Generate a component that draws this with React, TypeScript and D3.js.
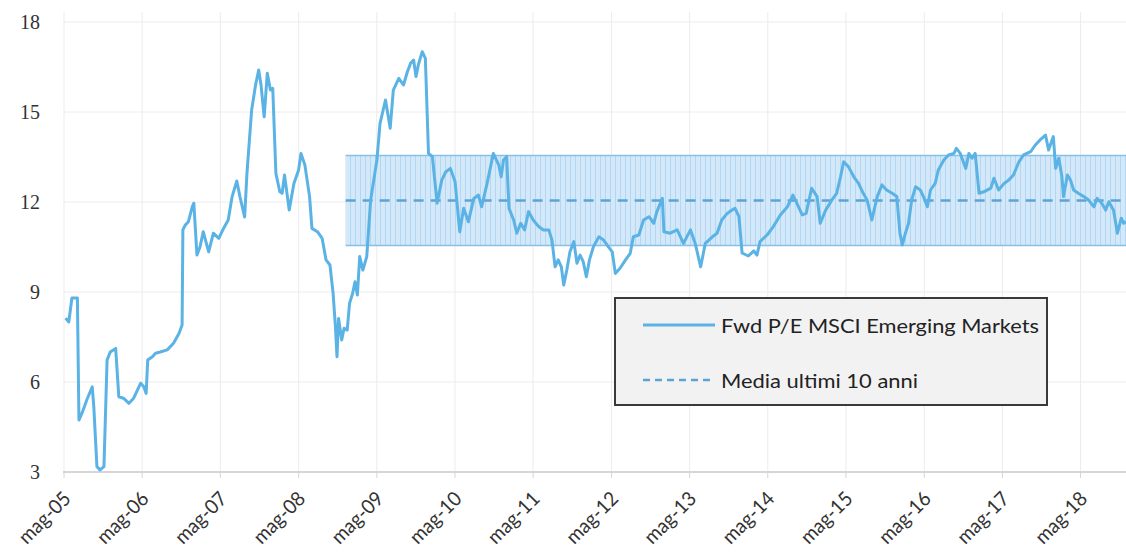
import React from "react";
import * as d3 from "d3";

// Weekly-ish observations, dates as decimal years
const obsYears = [
  2005.35, 2005.39, 2005.43, 2005.50, 2005.52, 2005.56, 2005.62, 2005.69, 2005.71, 2005.75,
  2005.79, 2005.84, 2005.88, 2005.92, 2005.99, 2006.03, 2006.09, 2006.16, 2006.22, 2006.31,
  2006.35, 2006.38, 2006.40, 2006.46, 2006.50, 2006.56, 2006.65, 2006.73, 2006.80, 2006.84,
  2006.85, 2006.88, 2006.92, 2006.97, 2006.99, 2007.03, 2007.07, 2007.11, 2007.18, 2007.24,
  2007.31, 2007.37, 2007.43, 2007.48, 2007.54, 2007.58, 2007.64, 2007.67, 2007.73, 2007.78,
  2007.82, 2007.85, 2007.89, 2007.93, 2007.97, 2008.00, 2008.04, 2008.09, 2008.12, 2008.15,
  2008.21, 2008.27, 2008.33, 2008.36, 2008.41, 2008.47, 2008.50, 2008.57, 2008.63, 2008.68,
  2008.73, 2008.77, 2008.80, 2008.82, 2008.84, 2008.88, 2008.91, 2008.95, 2008.98, 2009.02,
  2009.05, 2009.08, 2009.11, 2009.15, 2009.20, 2009.25, 2009.29, 2009.33, 2009.37, 2009.44,
  2009.50, 2009.54, 2009.61, 2009.67, 2009.72, 2009.76, 2009.80, 2009.83, 2009.86, 2009.91,
  2009.95, 2009.99, 2010.04, 2010.10, 2010.16, 2010.21, 2010.27, 2010.33, 2010.39, 2010.44,
  2010.50, 2010.57, 2010.63, 2010.67, 2010.74, 2010.82, 2010.89, 2010.92, 2010.95, 2010.99,
  2011.02, 2011.08, 2011.12, 2011.17, 2011.22, 2011.27, 2011.33, 2011.40, 2011.46, 2011.53,
  2011.57, 2011.61, 2011.65, 2011.69, 2011.72, 2011.76, 2011.80, 2011.85, 2011.89, 2011.93,
  2011.97, 2012.01, 2012.05, 2012.10, 2012.17, 2012.23, 2012.29, 2012.34, 2012.38, 2012.44,
  2012.51, 2012.57, 2012.61, 2012.68, 2012.74, 2012.81, 2012.87, 2012.91, 2012.98, 2013.00,
  2013.08, 2013.17, 2013.25, 2013.34, 2013.40, 2013.47, 2013.53, 2013.62, 2013.68, 2013.74,
  2013.81, 2013.87, 2013.91, 2013.96, 2014.00, 2014.08, 2014.15, 2014.19, 2014.23, 2014.32,
  2014.40, 2014.49, 2014.58, 2014.65, 2014.70, 2014.77, 2014.82, 2014.89, 2014.96, 2015.00,
  2015.07, 2015.15, 2015.21, 2015.26, 2015.30, 2015.36, 2015.43, 2015.49, 2015.55, 2015.60,
  2015.66, 2015.73, 2015.79, 2015.85, 2015.92, 2015.98, 2016.02, 2016.05, 2016.09, 2016.13,
  2016.17, 2016.22, 2016.28, 2016.32, 2016.37, 2016.41, 2016.47, 2016.51, 2016.58, 2016.64,
  2016.71, 2016.74, 2016.79, 2016.86, 2016.90, 2016.94, 2016.98, 2017.03, 2017.09, 2017.18,
  2017.22, 2017.28, 2017.35, 2017.41, 2017.47, 2017.54, 2017.60, 2017.69, 2017.75, 2017.81,
  2017.88, 2017.92, 2017.98, 2018.01, 2018.05, 2018.09, 2018.11, 2018.16, 2018.20, 2018.24,
  2018.30, 2018.37, 2018.43, 2018.50, 2018.54, 2018.60, 2018.65, 2018.69, 2018.75, 2018.80,
  2018.85, 2018.88, 2018.91,
];

// Forward P/E, MSCI Emerging Markets
const fwdPE = [
  8.13, 8.0, 8.8, 8.8, 4.73, 4.97, 5.4, 5.84, 5.18, 3.18,
  3.07, 3.18, 6.73, 7.0, 7.12, 5.51, 5.46, 5.29, 5.46, 5.96,
  5.84, 5.62, 6.73, 6.84, 6.96, 7.0, 7.07, 7.29, 7.62, 7.9,
  11.07, 11.23, 11.34, 11.84, 11.96, 10.23, 10.51, 11.01, 10.34, 10.96,
  10.79, 11.12, 11.4, 12.18, 12.7, 12.18, 11.5, 12.96, 15.07, 15.9,
  16.4, 15.9, 14.84, 16.29, 15.73, 15.79, 12.96, 12.34, 12.29, 12.9,
  11.73, 12.62, 13.07, 13.62, 13.23, 12.18, 11.12, 11.01, 10.79, 10.07,
  9.9, 8.96, 7.84, 6.84, 8.12, 7.4, 7.79, 7.73, 8.62, 8.96,
  9.34, 8.9, 10.18, 9.73, 10.18, 12.07, 12.73, 13.4, 14.62, 15.4,
  14.46, 15.73, 16.12, 15.9, 16.34, 16.62, 16.73, 16.18, 16.57, 17.01,
  16.79, 13.62, 13.51, 11.96, 12.73, 13.0, 13.12, 12.68, 11.01, 11.79,
  11.34, 12.12, 12.23, 11.84, 12.62, 13.62, 13.23, 12.84, 13.4, 13.51,
  11.79, 11.4, 10.96, 11.29, 11.07, 11.68, 11.4, 11.18, 11.07, 11.07,
  10.73, 9.84, 10.07, 9.84, 9.23, 9.73, 10.34, 10.68, 9.96, 10.23,
  10.01, 9.51, 10.07, 10.51, 10.84, 10.73, 10.51, 10.34, 9.62, 9.79,
  10.07, 10.29, 10.84, 10.9, 11.4, 11.51, 11.29, 11.68, 12.12, 11.01,
  10.96, 11.07, 10.62, 11.07, 10.62, 9.84, 10.62, 10.84, 10.96, 11.4,
  11.62, 11.73, 11.79, 11.51, 10.3, 10.2, 10.37, 10.23, 10.68, 10.9,
  11.18, 11.57, 11.84, 12.23, 11.96, 11.57, 11.62, 12.46, 12.18, 11.29,
  11.73, 12.07, 12.29, 12.84, 13.34, 13.18, 12.84, 12.62, 12.29, 12.07,
  11.4, 12.18, 12.57, 12.4, 12.29, 12.18, 10.96, 10.57, 10.96, 11.29,
  12.07, 12.51, 12.4, 12.18, 11.84, 12.4, 12.62, 13.07, 13.4, 13.57,
  13.62, 13.79, 13.62, 13.12, 13.62, 13.46, 13.62, 12.29, 12.34, 12.46,
  12.79, 12.4, 12.62, 12.73, 12.9, 13.34, 13.57, 13.68, 13.9, 14.07,
  14.23, 13.73, 14.18, 13.12, 13.46, 12.84, 12.18, 12.9, 12.73, 12.4,
  12.29, 12.18, 12.07, 11.84, 12.12, 11.96, 11.73, 12.01, 11.73, 10.96,
  11.46, 11.29, 11.35,
];

const yTicks = [3, 6, 9, 12, 15, 18];
const tickYears = [2005, 2006, 2007, 2008, 2009, 2010, 2011, 2012, 2013, 2014, 2015, 2016, 2017, 2018];
const tickLabels = tickYears.map((y) => `mag-${String(y % 100).padStart(2, "0")}`);

// Ten-year average and ±1 std band
const avgStartYear = 2008.93;
const avgEndYear = 2018.91;
const avgMean = 12.05;
const avgUpper = 13.55;
const avgLower = 10.55;

const legendLabels = ["Fwd P/E MSCI Emerging Markets", "Media ultimi 10 anni"];

const W = 1126;
const H = 559;
const LINE = "#5ab3e4";
const MEAN = "#5fa3d6";

function toDate(t: number): Date {
  const y = Math.floor(t);
  const a = Date.UTC(y, 0, 1);
  const b = Date.UTC(y + 1, 0, 1);
  return new Date(a + (t - y) * (b - a));
}

export default function App() {
  const x = d3
    .scaleUtc()
    .domain([new Date(Date.UTC(2005, 4, 1)), toDate(avgEndYear)])
    .range([64, 1126]);
  const y = d3.scaleLinear().domain([3, 18]).range([472, 22]);

  const series = obsYears.map((t, i) => ({ date: toDate(t), v: fwdPE[i] }));
  const line = d3
    .line<{ date: Date; v: number }>()
    .x((d) => x(d.date))
    .y((d) => y(d.v));

  const tickDates = tickYears.map((yr) => new Date(Date.UTC(yr, 4, 1)));
  const bx0 = x(toDate(avgStartYear));
  const bx1 = x(toDate(avgEndYear));

  const uiFont = "Lato, 'Open Sans', sans-serif";

  return (
    <div style={{ position: "absolute", left: 0, top: 0 }}>
      <svg width={W} height={H} style={{ display: "block", background: "#fff" }}>
        <defs>
          <pattern id="bandStripes" width={5} height={10} patternUnits="userSpaceOnUse">
            <rect width={5} height={10} fill="#d3e8f8" />
            <line x1={0.5} y1={0} x2={0.5} y2={10} stroke="#b3d6f2" strokeWidth={1} />
          </pattern>
        </defs>

        {/* grid */}
        {yTicks.map((t) => (
          <line key={"gy" + t} x1={63} x2={W} y1={y(t)} y2={y(t)} stroke="#ececec" strokeWidth={1} />
        ))}
        {tickDates.map((d, i) => (
          <line key={"gx" + i} x1={x(d)} x2={x(d)} y1={12} y2={y(3)} stroke="#ececec" strokeWidth={1} />
        ))}

        {/* ±1 std band around ten-year mean */}
        <rect x={bx0} y={y(avgUpper)} width={bx1 - bx0} height={y(avgLower) - y(avgUpper)} fill="url(#bandStripes)" />
        <line x1={bx0} x2={bx1} y1={y(avgUpper)} y2={y(avgUpper)} stroke="#86bfe8" strokeWidth={1.5} />
        <line x1={bx0} x2={bx1} y1={y(avgLower)} y2={y(avgLower)} stroke="#86bfe8" strokeWidth={1.5} />
        <line
          x1={bx0}
          x2={bx1}
          y1={y(avgMean)}
          y2={y(avgMean)}
          stroke={MEAN}
          strokeWidth={2.5}
          strokeDasharray="10 7"
        />

        {/* x axis */}
        <line x1={63} x2={W} y1={y(3)} y2={y(3)} stroke="#d6d6d6" strokeWidth={2} />
        {tickDates.map((d, i) => (
          <line key={"tx" + i} x1={x(d)} x2={x(d)} y1={y(3)} y2={y(3) + 6} stroke="#d6d6d6" strokeWidth={1} />
        ))}

        {/* series */}
        <path d={line(series) ?? ""} fill="none" stroke={LINE} strokeWidth={3} strokeLinejoin="round" />

        {/* y labels */}
        {yTicks.map((t) => (
          <text
            key={"ly" + t}
            x={40}
            y={y(t)}
            dy="0.35em"
            textAnchor="end"
            fontFamily="'Liberation Serif', serif"
            fontSize={20}
            fill="#333"
          >
            {t}
          </text>
        ))}

        {/* x labels */}
        {tickDates.map((d, i) => (
          <text
            key={"lx" + i}
            transform={`translate(${x(d) + 8},${y(3) + 28}) rotate(-45)`}
            textAnchor="end"
            fontFamily={uiFont}
            fontSize={20}
            fill="#333"
            textLength={64}
            lengthAdjust="spacingAndGlyphs"
          >
            {tickLabels[i]}
          </text>
        ))}

        {/* legend */}
        <rect x={615} y={298} width={432} height={107} fill="#f2f2f2" stroke="#3a3a3a" strokeWidth={2} />
        <line x1={643} x2={715} y1={325} y2={325} stroke={LINE} strokeWidth={3} />
        <line x1={643} x2={715} y1={380} y2={380} stroke={MEAN} strokeWidth={2.5} strokeDasharray="7 5" />
        <text x={721} y={333} fontFamily={uiFont} fontSize={20} fill="#222" textLength={318} lengthAdjust="spacingAndGlyphs">
          {legendLabels[0]}
        </text>
        <text x={721} y={388} fontFamily={uiFont} fontSize={20} fill="#222" textLength={197} lengthAdjust="spacingAndGlyphs">
          {legendLabels[1]}
        </text>
      </svg>
    </div>
  );
}
